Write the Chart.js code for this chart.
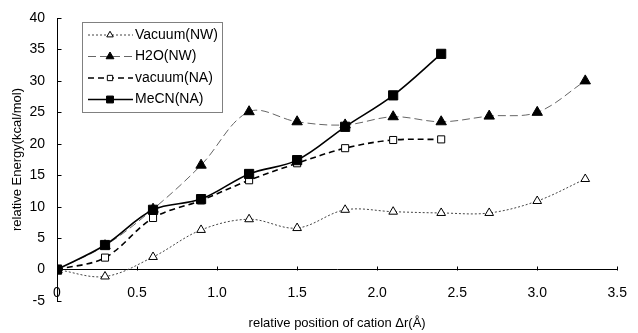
<!DOCTYPE html>
<html>
<head>
<meta charset="utf-8">
<script src="https://cdn.jsdelivr.net/npm/chart.js@4"></script>
<style>
  html, body { margin: 0; padding: 0; background: #fff; }
  #wrap { width: 638px; height: 333px; position: relative; }
</style>
</head>
<body>
<div id="wrap"><canvas id="energy"></canvas></div>
<script>
// Relative energy along the cation displacement coordinate
const positions = [0, 0.3, 0.6, 0.9, 1.2, 1.5, 1.8, 2.1, 2.4, 2.7, 3.0, 3.3];
const vacuumNW = [0, -1.1, 2.0, 6.3, 8.0, 6.6, 9.5, 9.2, 9.0, 9.0, 10.9, 14.4];
const h2oNW    = [0, 3.8, 9.6, 16.6, 25.1, 23.5, 23.0, 24.3, 23.5, 24.4, 25.0, 30.0];
const vacuumNA = [0, 1.9, 8.2, 11.0, 14.2, 16.9, 19.3, 20.6, 20.7];
const mecnNA   = [0, 3.9, 9.5, 11.2, 15.2, 17.4, 22.7, 27.7, 34.3];

const xTicks = { min: 0, max: 3.5, step: 0.5 };
const yTicks = { min: -5, max: 40, step: 5 };

const FONT = 'Arial, "Liberation Sans", sans-serif';

const pts = vals => vals.map((v, i) => ({ x: positions[i], y: v }));

const series = [
  { label: 'Vacuum(NW)', data: vacuumNW, line: '#444', width: 1, dash: [2, 2],
    style: 'triangle', radius: 5, fill: '#fff', order: 3 },
  { label: 'H2O(NW)', data: h2oNW, line: '#666', width: 1, dash: [8, 4],
    style: 'triangle', radius: 6, fill: '#000', order: 2 },
  { label: 'vacuum(NA)', data: vacuumNA, line: '#000', width: 1.6, dash: [6, 4],
    style: 'rect', radius: 5, fill: '#fff', order: 1 },
  { label: 'MeCN(NA)', data: mecnNA, line: '#000', width: 1.6, dash: [],
    style: 'rect', radius: 6.5, fill: '#000', order: 0 },
];

// Legend box with line sample + marker, like a spreadsheet legend
const boxLegend = {
  id: 'boxLegend',
  afterDraw(chart) {
    const { ctx, chartArea } = chart;
    const left = chartArea.left + 25, top = chartArea.top + 4;
    const w = 140, h = 90, rowH = 21.5;
    ctx.save();
    ctx.fillStyle = '#fff';
    ctx.fillRect(left, top, w, h);
    ctx.strokeStyle = '#808080';
    ctx.lineWidth = 1;
    ctx.strokeRect(left + 0.5, top + 0.5, w, h);
    series.forEach((s, i) => {
      const y = top + 13 + i * rowH;
      ctx.beginPath();
      ctx.setLineDash(s.dash);
      ctx.strokeStyle = s.line;
      ctx.lineWidth = s.width;
      ctx.moveTo(left + 6, y);
      ctx.lineTo(left + 51, y);
      ctx.stroke();
      ctx.setLineDash([]);
      ctx.fillStyle = s.fill;
      ctx.strokeStyle = '#000';
      ctx.lineWidth = 1;
      Chart.helpers.drawPoint(ctx, { pointStyle: s.style, radius: s.radius * 0.75, borderWidth: 1 }, left + 28, y);
      ctx.fillStyle = '#000';
      ctx.font = '14px ' + FONT;
      ctx.textAlign = 'left';
      ctx.textBaseline = 'middle';
      ctx.fillText(s.label, left + 53, y);
    });
    ctx.restore();
  },
};

// Short tick marks pointing into the plot from both axes
const innerTicks = {
  id: 'innerTicks',
  afterDatasetsDraw(chart) {
    const { ctx, scales: { x, y } } = chart;
    const y0 = Math.round(y.getPixelForValue(0)) + 0.5;
    const x0 = Math.round(x.left) + 0.5;
    ctx.save();
    ctx.strokeStyle = '#000';
    ctx.lineWidth = 1;
    ctx.beginPath();
    for (const t of x.ticks) {
      const px = Math.round(x.getPixelForValue(t.value)) + 0.5;
      ctx.moveTo(px, y0);
      ctx.lineTo(px, y0 - 4);
    }
    for (const t of y.ticks) {
      const py = Math.round(y.getPixelForValue(t.value)) + 0.5;
      ctx.moveTo(x0, py);
      ctx.lineTo(x0 + 4, py);
    }
    ctx.stroke();
    ctx.restore();
  },
};

// x-axis caption sits below the tick labels (the axis itself crosses at y = 0)
const xCaption = {
  id: 'xCaption',
  afterDraw(chart) {
    const { ctx, chartArea } = chart;
    ctx.save();
    ctx.fillStyle = '#000';
    ctx.font = '13px ' + FONT;
    ctx.textAlign = 'center';
    ctx.textBaseline = 'middle';
    ctx.fillText('relative position of cation \u0394r(\u00C5)', (chartArea.left + chartArea.right) / 2, 323);
    ctx.restore();
  },
};

new Chart(document.getElementById('energy'), {
  type: 'line',
  data: {
    datasets: series.map(s => ({
      label: s.label,
      data: pts(s.data),
      borderColor: s.line,
      borderWidth: s.width,
      borderDash: s.dash,
      tension: 0.35,
      pointStyle: s.style,
      pointRadius: s.radius,
      pointBackgroundColor: s.fill,
      pointBorderColor: '#000',
      pointBorderWidth: 1,
      order: s.order,
      fill: false,
    })),
  },
  options: {
    responsive: true,
    maintainAspectRatio: false,
    animation: false,
    layout: { padding: { top: 18, right: 11, bottom: 32, left: 0 } },
    scales: {
      x: {
        type: 'linear',
        position: { y: 0 },
        min: xTicks.min, max: xTicks.max,
        // outward ticks kept for spacing only; visible ticks come from innerTicks
        grid: { drawOnChartArea: false, drawTicks: true, tickLength: 4, color: 'rgba(0,0,0,0)' },
        border: { display: true, color: '#000', width: 1 },
        ticks: { stepSize: xTicks.step, color: '#000', padding: 11, maxRotation: 0,
                 font: { family: FONT, size: 14 } },
      },
      y: {
        min: yTicks.min, max: yTicks.max,
        afterFit: scale => { scale.width = 57; },
        grid: { drawOnChartArea: false, drawTicks: true, tickLength: 4, color: 'rgba(0,0,0,0)' },
        border: { display: true, color: '#000', width: 1 },
        ticks: { stepSize: yTicks.step, color: '#000', padding: 8,
                 font: { family: FONT, size: 14 } },
        title: { display: true, text: 'relative Energy(kcal/mol)', color: '#000',
                 padding: { top: 10, bottom: 0 }, font: { family: FONT, size: 13 } },
      },
    },
    plugins: {
      legend: { display: false },
      tooltip: { enabled: false },
    },
  },
  plugins: [innerTicks, boxLegend, xCaption],
});
</script>
</body>
</html>
